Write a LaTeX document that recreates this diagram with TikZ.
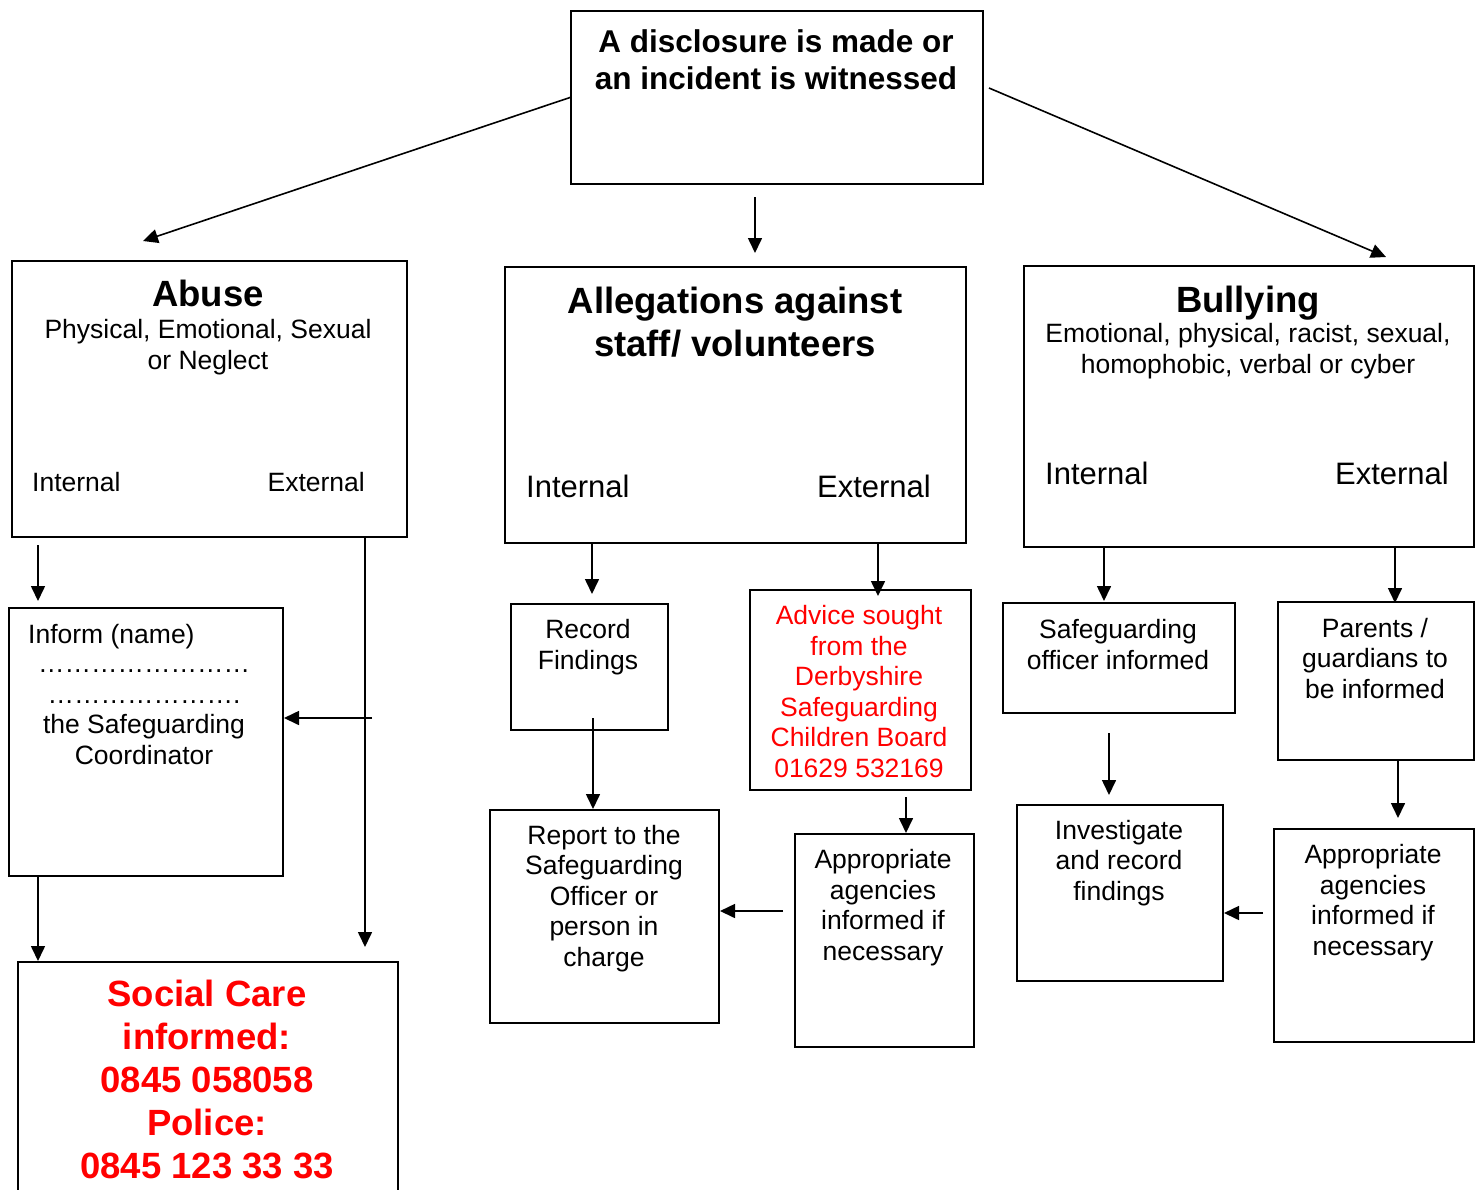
\documentclass[tikz,border=0pt]{standalone}
\usepackage{fontspec}
\setmainfont{Liberation Sans}
\usetikzlibrary{arrows.meta}

\begin{document}
\begin{tikzpicture}[x=1pt,y=-1pt,
  box/.style={draw,line width=2pt,anchor=north west,inner sep=0pt},
  arr/.style={line width=1.6pt,-{Triangle[length=15pt,width=14pt]}},
  txt/.style={inner sep=0pt,align=center,font=\fontsize{26.5}{30.5}\selectfont},
  midtxt/.style={inner sep=0pt,font=\fontsize{31}{36}\selectfont},
  bigtxt/.style={inner sep=0pt,align=center,font=\bfseries\fontsize{36.5}{43}\selectfont}]

      \useasboundingbox (0,0) rectangle (1480,1189);
      \clip (0,0) rectangle (1480,1189);

      % boxes
      \node[box,minimum width=412pt,minimum height=173pt] (top) at (570,10) {};
      \node[box,minimum width=395pt,minimum height=276pt] (abuse) at (11,260) {};
      \node[box,minimum width=461pt,minimum height=276pt] (alleg) at (504,266) {};
      \node[box,minimum width=450pt,minimum height=281pt] (bully) at (1023,265) {};
      \node[box,minimum width=274pt,minimum height=268pt] (inform) at (8,607) {};
      \node[box,minimum width=380pt,minimum height=260pt] (social) at (17,961) {};
      \node[box,minimum width=157pt,minimum height=126pt] (record) at (510,603) {};
      \node[box,minimum width=229pt,minimum height=213pt] (report) at (489,809) {};
      \node[box,minimum width=221pt,minimum height=200pt] (advice) at (749,589) {};
      \node[box,minimum width=179pt,minimum height=213pt] (approA) at (794,833) {};
      \node[box,minimum width=232pt,minimum height=110pt] (safeg) at (1002,602) {};
      \node[box,minimum width=206pt,minimum height=176pt] (invest) at (1016,804) {};
      \node[box,minimum width=196pt,minimum height=158pt] (parents) at (1277,601) {};
      \node[box,minimum width=200pt,minimum height=213pt] (approB) at (1273,828) {};

      % texts (base = last line)
      \node[inner sep=0pt,align=center,font=\bfseries\fontsize{31.5}{37}\selectfont,anchor=base] (topT) at (776,89)
      {A disclosure is made or\\an incident is witnessed};

      \node[bigtxt,anchor=base] (abuseT) at (208,306) {Abuse};
      \node[txt,anchor=base] (abuseS) at (208,369) {Physical, Emotional, Sexual\\or Neglect};
      \node[txt,anchor=base west] (abuseI) at (32,491) {Internal};
      \node[txt,anchor=base east] (abuseE) at (365,491) {External};

      \node[bigtxt,anchor=base] (allegT) at (735,356) {Allegations against\\staff/ volunteers};
      \node[midtxt,anchor=base west] (allegI) at (526,497) {Internal};
      \node[midtxt,anchor=base east] (allegE) at (931,497) {External};

      \node[bigtxt,anchor=base] (bullyT) at (1248,312) {Bullying};
      \node[txt,anchor=base] (bullyS) at (1248,373) {Emotional, physical, racist, sexual,\\homophobic, verbal or cyber};
      \node[midtxt,anchor=base west] (bullyI) at (1045,484) {Internal};
      \node[midtxt,anchor=base east] (bullyE) at (1449,484) {External};

      \node[txt,anchor=base west] (informT) at (28,643) {Inform (name)};
      \node[txt,anchor=base] (informS) at (144,764)
      {……\hspace{0pt}……\hspace{0pt}……\hspace{0pt}……\\……\hspace{0pt}……\hspace{0pt}……\hspace{0pt}….\\the Safeguarding\\Coordinator};

      \node[bigtxt,text=red,anchor=base] (socialT) at (207,1178)
      {Social Care\\informed:\\0845 058058\\Police:\\0845 123 33 33};

      \node[txt,anchor=base] (recordT) at (588,669) {Record\\Findings};
      \node[txt,anchor=base] (reportT) at (604,966) {Report to the\\Safeguarding\\Officer or\\person in\\charge};
      \node[txt,text=red,anchor=base] (adviceT) at (859,777)
      {Advice sought\\from the\\Derbyshire\\Safeguarding\\Children Board\\01629 532169};
      \node[txt,anchor=base] (approAT) at (883,960) {Appropriate\\agencies\\informed if\\necessary};
      \node[txt,anchor=base] (safegT) at (1118,669) {Safeguarding\\officer informed};
      \node[txt,anchor=base] (investT) at (1119,900) {Investigate\\and record\\findings};
      \node[txt,anchor=base] (parentsT) at (1375,698) {Parents /\\guardians to\\be informed};
      \node[txt,anchor=base] (approBT) at (1373,955) {Appropriate\\agencies\\informed if\\necessary};

      % connectors
      \coordinate (toAbuse) at (143,241);
      \coordinate (fromTopR) at (989,88);
      \coordinate (toBully) at (1386,257);
      \coordinate (fromTopD) at (755,197);
      \coordinate (toAlleg) at (755,253);
      \draw[arr] (top.west) -- (toAbuse);
      \draw[arr] (fromTopR) -- (toBully);
      \draw[arr] (fromTopD) -- (toAlleg);

      \coordinate (abuseIn) at (38,545);
      \coordinate (toInform) at (38,601);
      \coordinate (abuseEx) at (365,947);
      \coordinate (sideIn) at (372,718);
      \coordinate (informOut) at (38,0);
      \draw[arr] (abuseIn) -- (toInform);
      \draw[arr] (abuseEx |- abuse.south) -- (abuseEx);
      \draw[arr] (sideIn) -- (sideIn -| inform.east);
      \draw[arr] (informOut |- inform.south) -- (informOut |- social.north);

      \coordinate (allegIn) at (592,594);
      \coordinate (allegEx) at (878,596);
      \coordinate (recordOut) at (593,718);
      \coordinate (adviceOut) at (906,797);
      \coordinate (approAOut) at (783,911);
      \draw[arr] (allegIn |- alleg.south) -- (allegIn);
      \draw[arr] (allegEx |- alleg.south) -- (allegEx);
      \draw[arr] (recordOut) -- (recordOut |- report.north);
      \draw[arr] (adviceOut) -- (adviceOut |- approA.north);
      \draw[arr] (approAOut) -- (approAOut -| report.east);

      \coordinate (bullyIn) at (1104,601);
      \coordinate (bullyEx) at (1395,603);
      \coordinate (safegOut) at (1109,733);
      \coordinate (toInvest) at (1109,795);
      \coordinate (parentsOut) at (1398,760);
      \coordinate (toApproB) at (1398,818);
      \coordinate (approBOut) at (1263,913);
      \draw[arr] (bullyIn |- bully.south) -- (bullyIn);
      \draw[arr] (bullyEx |- bully.south) -- (bullyEx);
      \draw[arr] (safegOut) -- (toInvest);
      \draw[arr] (parentsOut) -- (toApproB);
      \draw[arr] (approBOut) -- (approBOut -| invest.east);

\end{tikzpicture}
\end{document}
